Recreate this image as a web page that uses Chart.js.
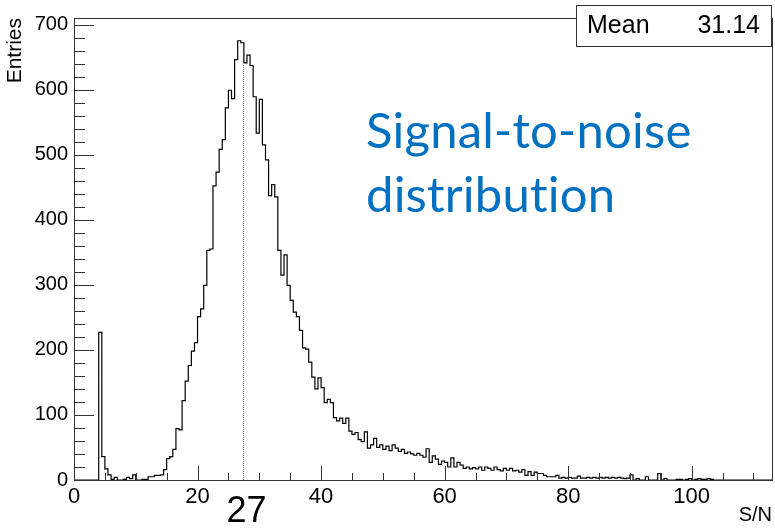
<!DOCTYPE html>
<html>
<head>
<meta charset="utf-8">
<script src="https://cdn.jsdelivr.net/npm/chart.js@4.4.1/dist/chart.umd.min.js"></script>
<style>
  body { margin: 0; background: #fff; }
  canvas { display: block; }
</style>
</head>
<body>
<canvas id="snChart" width="775" height="528"></canvas>
<script>
// S/N histogram, bins of 0.5 starting at 0
const binWidth = 0.5;
const entries = [
  0, 0, 0, 0, 0, 0, 0, 0, 227, 36,
  17, 8, 1, 4, 0, 0, 1, 4, 2, 8,
  0, 0, 1, 1, 5, 5, 7, 7, 8, 16,
  33, 36, 47, 79, 77, 122, 152, 176, 198, 211,
  251, 263, 299, 353, 355, 452, 473, 508, 523, 572,
  599, 586, 646, 675, 672, 641, 653, 637, 589, 533,
  585, 515, 492, 437, 454, 435, 353, 315, 346, 299,
  276, 258, 251, 230, 203, 201, 181, 158, 140, 157,
  142, 119, 124, 119, 96, 91, 95, 87, 95, 75,
  70, 73, 62, 59, 74, 49, 54, 64, 50, 54,
  47, 52, 45, 54, 49, 44, 47, 41, 43, 40,
  38, 41, 38, 35, 48, 27, 37, 32, 24, 29,
  27, 20, 34, 20, 27, 23, 18, 20, 17, 19,
  17, 20, 15, 20, 18, 15, 20, 16, 14, 18,
  15, 18, 14, 15, 12, 16, 7, 13, 7, 12,
  10, 10, 7, 5, 5, 5, 7, 3, 4, 3,
  4, 3, 3, 6, 3, 3, 4, 3, 4, 3,
  4, 3, 4, 3, 4, 3, 4, 3, 2, 3,
  8, 0, 2, 0, 0, 5, 0, 0, 0, 10,
  0, 2, 0, 0, 0, 1, 1, 0, 1, 2,
  0, 1, 2, 1, 1, 2, 1, 0, 0, 0,
  0, 0, 0, 0, 0, 0, 0, 0, 0, 0,
  0, 0, 0, 0, 0, 0
];

const xMin = 0;
const xMax = 113;
const yMax = 710;
const xTickLabels = [0, 20, 40, 60, 80, 100];
const yTickLabels = [0, 100, 200, 300, 400, 500, 600, 700];

const meanValue = '31.14';
const peakValue = 27.45;      // dotted line position
const peakLineTop = 638;
const peakLabel = '27';
const noteLines = ['Signal-to-noise', 'distribution'];

const AXIS_FONT = 'Liberation Sans, Arial, sans-serif';

// step points at bin left edges; the last point closes the final bin
const histPoints = entries.map((v, i) => ({ x: i * binWidth, y: v }));
histPoints.push({ x: entries.length * binWidth, y: entries[entries.length - 1] });

// inward ROOT-style ticks, frame, stats box and notes
const decorPlugin = {
  id: 'decor',
  afterDraw(chart) {
    const ctx = chart.ctx;
    const { left, right, top, bottom } = chart.chartArea;
    const xs = chart.scales.x;
    const ys = chart.scales.y;

    ctx.save();
    ctx.strokeStyle = '#333';
    ctx.lineWidth = 1;
    ctx.strokeRect(Math.round(left) + 0.5, Math.round(top) + 0.5, Math.round(right - left), Math.round(bottom - top));

    ctx.beginPath();
    for (let v = xMin; v <= xMax; v += 5) {
      const px = Math.round(xs.getPixelForValue(v)) + 0.5;
      const len = v % 20 === 0 ? 14 : 7;
      ctx.moveTo(px, bottom);
      ctx.lineTo(px, bottom - len);
    }
    for (let v = 0; v <= 700; v += 20) {
      const py = Math.round(ys.getPixelForValue(v)) + 0.5;
      const len = v % 100 === 0 ? 20 : 11;
      ctx.moveTo(left, py);
      ctx.lineTo(left + len, py);
    }
    ctx.stroke();

    // stats box
    ctx.fillStyle = '#fff';
    ctx.fillRect(576, 5, 196, 41);
    ctx.strokeRect(576.5, 5.5, 195, 41);
    ctx.fillStyle = '#000';
    ctx.font = '25px ' + AXIS_FONT;
    ctx.textBaseline = 'alphabetic';
    ctx.textAlign = 'left';
    ctx.fillText('Mean', 587, 33);
    ctx.textAlign = 'right';
    ctx.fillText(meanValue, 760, 33);

    // peak label under the axis
    ctx.textAlign = 'center';
    ctx.font = '36px ' + AXIS_FONT;
    ctx.fillText(peakLabel, xs.getPixelForValue(peakValue) + 3, 522);

    // blue note
    ctx.textAlign = 'left';
    ctx.fillStyle = '#0070C0';
    ctx.letterSpacing = '0.2px';
    ctx.font = '49px Lato, "Open Sans", sans-serif';
    ctx.fillText(noteLines[0], 366, 148);
    ctx.fillText(noteLines[1], 366, 212);
    ctx.restore();
  }
};

new Chart(document.getElementById('snChart'), {
  type: 'line',
  data: {
    datasets: [
      {
        data: histPoints,
        stepped: 'before',   // level of each bin runs right from its left edge
        borderColor: '#000',
        borderWidth: 1.2,
        pointRadius: 0,
        fill: false
      },
      {
        data: [{ x: peakValue, y: 0 }, { x: peakValue, y: peakLineTop }],
        borderColor: '#777',
        borderWidth: 1,
        borderDash: [1, 1],
        pointRadius: 0,
        fill: false
      }
    ]
  },
  plugins: [decorPlugin],
  options: {
    responsive: false,
    animation: false,
    layout: { padding: { top: 5, right: 3, left: 0, bottom: 0 } },
    plugins: {
      legend: { display: false },
      tooltip: { enabled: false }
    },
    scales: {
      x: {
        type: 'linear',
        min: xMin,
        max: xMax,
        grid: { display: false, drawTicks: false },
        border: { display: false },
        afterBuildTicks: (s) => { s.ticks = xTickLabels.map(v => ({ value: v })); },
        afterFit: (s) => { s.height = 48; },
        ticks: {
          color: '#000',
          padding: 4,
          maxRotation: 0,
          autoSkip: false,
          font: { family: AXIS_FONT, size: 22 }
        },
        title: {
          display: true,
          text: 'S/N',
          align: 'end',
          color: '#000',
          padding: { top: 0, bottom: 1 },
          font: { family: AXIS_FONT, size: 20 }
        }
      },
      y: {
        min: 0,
        max: yMax,
        grid: { display: false, drawTicks: false },
        border: { display: false },
        afterBuildTicks: (s) => { s.ticks = yTickLabels.map(v => ({ value: v })); },
        afterFit: (s) => { s.width = 74; },
        ticks: {
          color: '#000',
          padding: 6,
          font: { family: AXIS_FONT, size: 20 }
        },
        title: {
          display: true,
          text: 'Entries',
          align: 'end',
          color: '#000',
          padding: { top: 3, bottom: 0 },
          font: { family: AXIS_FONT, size: 21 }
        }
      }
    }
  }
});
</script>
</body>
</html>
